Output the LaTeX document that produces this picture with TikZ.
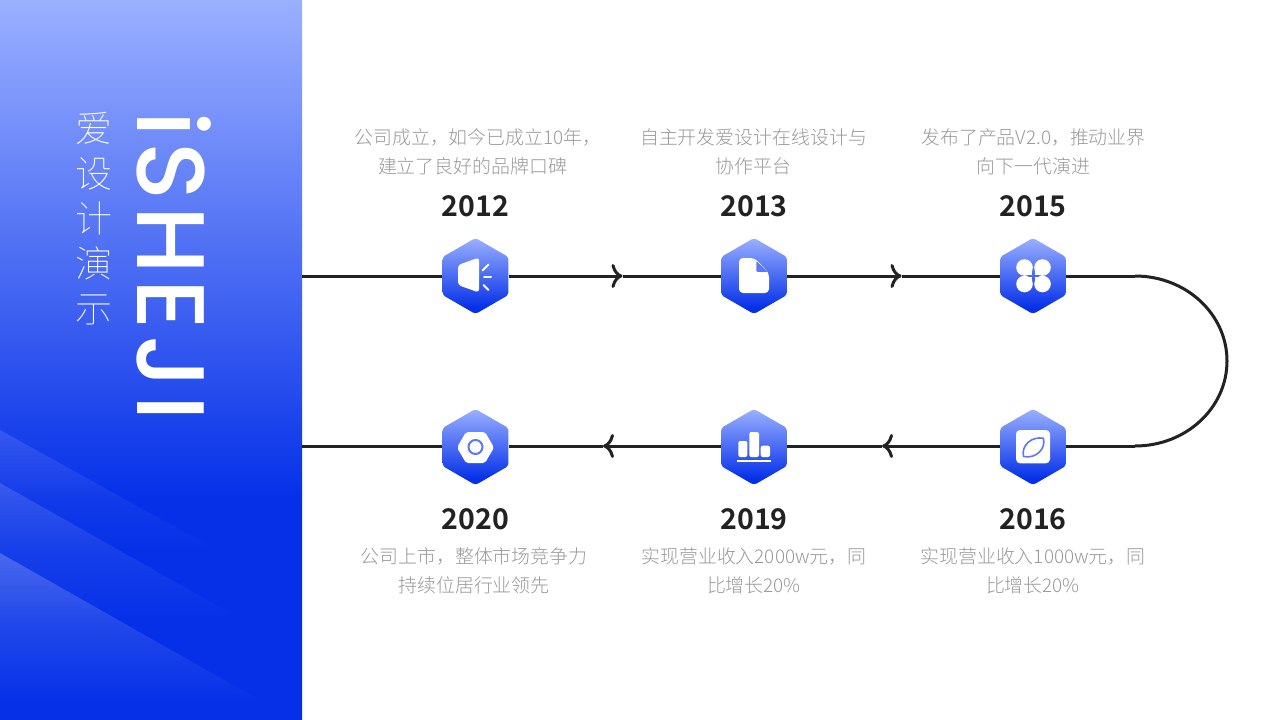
\documentclass[tikz,border=0pt]{standalone}
\usepackage{fontspec}
\usetikzlibrary{shapes.geometric,arrows.meta,fadings}
\newfontfamily\bodyf{Noto Sans CJK SC Light}
\newfontfamily\thinf{Noto Sans CJK SC Thin}
\newfontfamily\yearf{Noto Sans CJK SC Bold}
\newfontfamily\brandf[LetterSpace=6]{Poppins Medium}
\definecolor{ink}{HTML}{222222}
\definecolor{graytxt}{HTML}{999999}
\definecolor{hextop}{HTML}{9AB0FF}
\definecolor{hexbot}{HTML}{0530E8}
\definecolor{iconblue}{HTML}{5A78F8}
\pgfdeclareverticalshading{panelgrad}{100bp}{color(0bp)=(hexbot);color(40.3bp)=(hexbot);color(75bp)=(hextop);color(100bp)=(hextop)}
\pgfdeclareverticalshading{hexgrad}{100bp}{color(0bp)=(hexbot);color(29bp)=(hexbot);color(75bp)=(hextop);color(100bp)=(hextop)}
\tikzfading[name=fadeA,top color=transparent!88,bottom color=transparent!100]
\tikzfading[name=fadeB,top color=transparent!86,bottom color=transparent!100]
\tikzfading[name=fadeC,top color=transparent!78,bottom color=transparent!100]
\tikzset{
  hexnode/.style={shape=regular polygon,regular polygon sides=6,shape border rotate=30,minimum size=76pt,inner sep=0pt,shading=hexgrad,rounded corners=3pt},
  descr/.style={align=center,text=graytxt,font=\bodyf\fontsize{18.9pt}{29pt}\selectfont,inner sep=0pt},
  yeartxt/.style={text=ink,font=\yearf\fontsize{28.5pt}{32pt}\selectfont,inner sep=0pt},
  conn/.style={draw=ink,line width=3pt},
  arrowconn/.style={conn,-{To[length=11pt,width=24pt]}},
  iconline/.style={draw=white,line width=2pt,line cap=round},
}
\begin{document}
\begin{tikzpicture}[x=1pt,y=-1pt]
\useasboundingbox (0,0) rectangle (1280,720);
\fill[white] (0,0) rectangle (1280,720);
\shade[shading=panelgrad] (0,0) rectangle (302,720);
\fill[white,path fading=fadeA] (0,430) -- (222,553) -- (0,553) -- cycle;
\fill[white,path fading=fadeB] (0,483) -- (248,623) -- (0,623) -- cycle;
\fill[white,path fading=fadeC] (0,553) -- (268,705) -- (0,705) -- cycle;

\node[anchor=base,rotate=-90,text=white,inner sep=0pt,font=\brandf\fontsize{96pt}{96pt}\selectfont] (brand) at (137,266) {iSHEJI};
\node[align=center,text=white,inner sep=0pt,font=\thinf\fontsize{37pt}{45pt}\selectfont] (subtitle) at (94,219) {爱\\设\\计\\演\\示};

\node[hexnode] (h1) at (475.5,276) {};
\node[hexnode] (h2) at (754,276) {};
\node[hexnode] (h3) at (1033,276) {};
\node[hexnode] (h4) at (475.5,447) {};
\node[hexnode] (h5) at (754,447) {};
\node[hexnode] (h6) at (1033,447) {};

\coordinate (s1) at (302,276);
\coordinate (a1) at (622.5,276);
\coordinate (a2) at (901.5,276);
\coordinate (c1) at (1135,276);
\coordinate (c2) at (1227,361);
\coordinate (c3) at (1135,446);
\coordinate (a3) at (882,446);
\coordinate (a4) at (603,446);
\coordinate (s2) at (302,446);

\draw[conn] (s1) -- (h1.west |- s1);
\draw[arrowconn] (h1.east |- s1) -- (a1);
\draw[conn] (a1) -- (h2.west |- s1);
\draw[arrowconn] (h2.east |- s1) -- (a2);
\draw[conn] (a2) -- (h3.west |- s1);
\draw[conn] (h3.east |- s1) -- (c1);
\draw[conn] (c1) .. controls (1186,276) and (1227,314) .. (c2) .. controls (1227,408) and (1186,446) .. (c3);
\draw[conn] (c3) -- (h6.east |- c3);
\draw[arrowconn] (h6.west |- c3) -- (a3);
\draw[conn] (a3) -- (h5.east |- c3);
\draw[arrowconn] (h5.west |- c3) -- (a4);
\draw[conn] (a4) -- (h4.east |- c3);
\draw[conn] (h4.west |- c3) -- (s2);

% icon 1: speaker
\fill[white,rounded corners=3pt] (458,265) -- (479,257.5) -- (479,292.5) -- (458,285) -- cycle;
\draw[iconline] (482.5,270.5) -- (488.5,264.5);
\draw[iconline] (484,276.7) -- (491,276.7);
\draw[iconline] (483.5,285) -- (488.5,290);
% icon 2: document
\fill[white,rounded corners=4pt] (739,258) -- (754.5,258) -- (769,273) -- (769,293) -- (739,293) -- cycle;
\fill[iconblue,rounded corners=1pt] (756.3,261) -- (767.7,271.8) -- (756.3,271.8) -- cycle;
% icon 3: clover
\foreach \cx/\cy/\dx/\dy in {1024.5/267.5/1/1,1042.5/267.5/-1/1,1024.5/284/1/-1,1042.5/284/-1/-1}{
  \fill[white] (\cx,\cy) circle[radius=8.3];
  \fill[white] (\cx,\cy) rectangle ++(7.5*\dx,7.5*\dy);
}
% icon 4: nut
\fill[white,rounded corners=2pt] (457,447.5) -- (466,432) -- (485,432) -- (494,447.5) -- (485,463) -- (466,463) -- cycle;
\draw[iconblue,line width=2pt] (475.5,447) circle[radius=7];
% icon 5: bars
\fill[white,rounded corners=2pt] (738.3,441) rectangle (747.3,457);
\fill[white,rounded corners=2pt] (749.3,432) rectangle (759,457);
\fill[white,rounded corners=2pt] (760.7,445.7) rectangle (770,457);
\fill[white] (737,460.2) rectangle (771,462.4);
% icon 6: leaf
\fill[white,rounded corners=4pt] (1016,430) rectangle (1050,463.3);
\draw[iconblue,line width=1.6pt,line join=round] (1023.5,456.5) .. controls (1021,445) and (1032,436) .. (1043.5,438.3) .. controls (1046,449) and (1036,459) .. (1023.5,456.5) -- cycle;

% texts
\node[descr] (t1) at (472.5,152) {\hspace*{11pt}公司成立，如今已成立10年，\\建立了良好的品牌口碑};
\node[descr] (t2) at (753.5,152) {自主开发爱设计在线设计与\\协作平台};
\node[descr] (t3) at (1033.5,152) {发布了产品V2.0，推动业界\\向下一代演进};
\node[descr] (t4) at (474,571) {公司上市，整体市场竞争力\\持续位居行业领先};
\node[descr] (t5) at (754,571) {实现营业收入2000w元，同\\比增长20\%};
\node[descr] (t6) at (1033,571) {实现营业收入1000w元，同\\比增长20\%};
\node[yeartxt] (y1) at (475.5,206) {2012};
\node[yeartxt] (y2) at (754,206) {2013};
\node[yeartxt] (y3) at (1033,206) {2015};
\node[yeartxt] (y4) at (475.5,519) {2020};
\node[yeartxt] (y5) at (754,519) {2019};
\node[yeartxt] (y6) at (1033,519) {2016};
\end{tikzpicture}
\end{document}
